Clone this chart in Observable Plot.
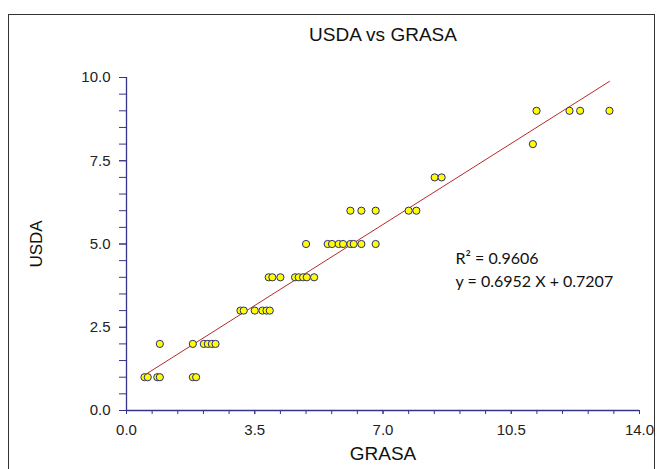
<!DOCTYPE html>
<html>
<head>
<meta charset="utf-8">
<script src="https://cdn.jsdelivr.net/npm/d3@7"></script>
<script src="https://cdn.jsdelivr.net/npm/@observablehq/plot@0.6"></script>
<style>
  html, body { margin: 0; padding: 0; background: #fff; }
  #wrap { position: relative; width: 663px; height: 469px; overflow: hidden; }
  #box { position: absolute; left: 8px; top: 14px; width: 647px; height: 470px; border: 1.5px solid #333; box-sizing: border-box; }
  #chart { position: absolute; left: 0; top: 0; }
</style>
</head>
<body>
<div id="wrap"><div id="box"></div><div id="chart"></div></div>
<script>
// Data (GRASA on x, USDA on y)
const grasa = [
  0.49, 0.58, 0.84, 0.91, 1.81, 1.90,
  0.91, 1.81, 2.11, 2.22, 2.33, 2.43,
  3.11, 3.20, 3.50, 3.71, 3.82, 3.91,
  3.88, 3.98, 4.20, 4.60, 4.70, 4.82, 4.92, 5.12,
  4.90, 5.49, 5.61, 5.79, 5.91, 6.11, 6.20, 6.41, 6.80,
  6.11, 6.41, 6.80, 7.70, 7.91,
  8.41, 8.60,
  11.09,
  11.19, 12.09, 12.38, 13.18
];
const usda = [
  1, 1, 1, 1, 1, 1,
  2, 2, 2, 2, 2, 2,
  3, 3, 3, 3, 3, 3,
  4, 4, 4, 4, 4, 4, 4, 4,
  5, 5, 5, 5, 5, 5, 5, 5, 5,
  6, 6, 6, 6, 6,
  7, 7,
  8,
  9, 9, 9, 9
];
const slope = 0.6952;
const intercept = 0.7207;
const r2Label = "R\u00B2 = 0.9606";
const eqLabel = "y = 0.6952 X + 0.7207";
const annX = 8.98;
const annY = [4.56, 3.87];

const titleText = "USDA vs GRASA";
const xLabel = "GRASA";
const yLabel = "USDA";
const xTickLabels = [0, 3.5, 7.0, 10.5, 14.0];
const yTickLabels = [0, 2.5, 5.0, 7.5, 10.0];
const xMinor = d3.range(0, 21).map(i => +(i * 0.7).toFixed(1));
const yMinor = d3.range(0, 21).map(i => i * 0.5);

const points = grasa.map((g, i) => ({x: g, y: usda[i]}));
const xmin = d3.min(grasa), xmax = d3.max(grasa);
const fit = [xmin, xmax].map(x => ({x, y: slope * x + intercept}));

const axisColor = "#34348c";

const chart = Plot.plot({
  width: 663,
  height: 469,
  marginLeft: 126,
  marginRight: 24,
  marginTop: 77,
  marginBottom: 59,
  style: {fontFamily: "'Liberation Sans', Arial, sans-serif", background: "transparent", color: "#222"},
  x: {domain: [0, 14], label: null},
  y: {domain: [0, 10], label: null},
  marks: [
    Plot.axisX({ticks: xMinor, tickSize: 4, tickFormat: () => "", stroke: axisColor, strokeOpacity: 1, label: null}),
    Plot.axisX({ticks: xTickLabels, tickSize: 4, tickPadding: 10, tickFormat: d => d.toFixed(1), stroke: axisColor, strokeOpacity: 1, fontSize: 15, fill: "#222", label: null}),
    Plot.axisY({ticks: yMinor, tickSize: 7, tickFormat: () => "", stroke: axisColor, strokeOpacity: 1, label: null}),
    Plot.axisY({ticks: yTickLabels, tickSize: 7, tickPadding: 9, tickFormat: d => d.toFixed(1), stroke: axisColor, strokeOpacity: 1, fontSize: 15, fill: "#222", label: null}),
    Plot.ruleY([0], {stroke: axisColor, strokeWidth: 1.3}),
    Plot.ruleX([0], {stroke: axisColor, strokeWidth: 1.3}),
    Plot.line(fit, {x: "x", y: "y", stroke: "#b52a2a", strokeWidth: 1}),
    Plot.dot(points, {x: "x", y: "y", r: 3.6, fill: "#ffff00", stroke: "#2b2b7a", strokeWidth: 1}),
    Plot.text([r2Label, eqLabel], {x: () => annX, y: (d, i) => annY[i], text: d => d, textAnchor: "start", fontSize: 16, fontFamily: "Lato, 'Open Sans', sans-serif", fill: "#111"}),
    Plot.text([titleText], {frameAnchor: "top", lineAnchor: "middle", dy: -43, fontSize: 19, fill: "#111"}),
    Plot.text([xLabel], {frameAnchor: "bottom", lineAnchor: "middle", dy: 43, fontSize: 19, fill: "#111"}),
    Plot.text([yLabel], {frameAnchor: "left", textAnchor: "middle", lineAnchor: "middle", dx: -90, rotate: -90, fontSize: 17, fill: "#111"})
  ]
});
document.getElementById("chart").appendChild(chart);
</script>
</body>
</html>
